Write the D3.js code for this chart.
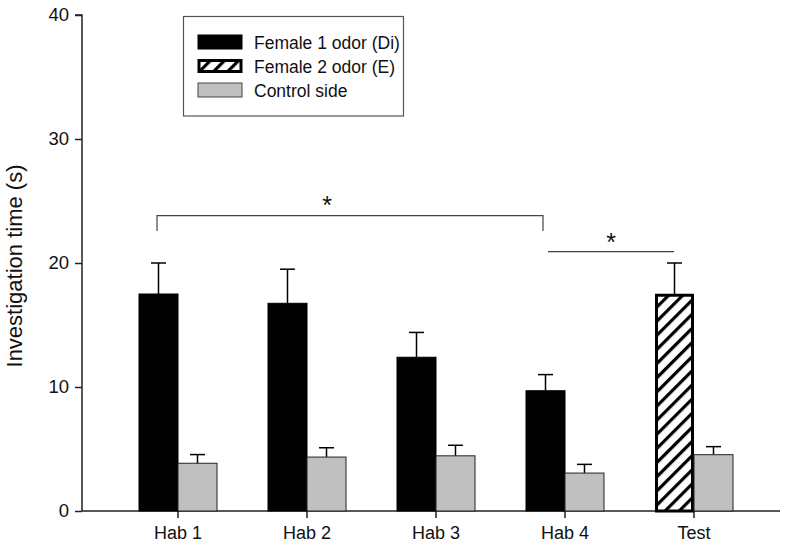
<!DOCTYPE html>
<html>
<head>
<meta charset="utf-8">
<script src="https://cdn.jsdelivr.net/npm/d3@7/dist/d3.min.js"></script>
<style>
  html, body { margin: 0; padding: 0; background: #fff; }
  svg { display: block; font-family: Arial, "Liberation Sans", sans-serif; }
</style>
</head>
<body>
<svg id="chart" width="800" height="555"></svg>
<script>
const categories = ["Hab 1", "Hab 2", "Hab 3", "Hab 4", "Test"];
const female1 = [17.5, 16.75, 12.4, 9.7, null];
const female1Err = [2.5, 2.75, 2.0, 1.3, null];
const female2 = [null, null, null, null, 17.4];
const female2Err = [null, null, null, null, 2.6];
const control = [3.85, 4.35, 4.45, 3.06, 4.54];
const controlErr = [0.7, 0.75, 0.85, 0.7, 0.65];
const yTicks = [0, 10, 20, 30, 40];
const legendLabels = ["Female 1 odor (Di)", "Female 2 odor (E)", "Control side"];
const yTitle = "Investigation time (s)";

const svg = d3.select("#chart");

// pattern for hatched bars
const defs = svg.append("defs");
const pat = defs.append("pattern")
  .attr("id", "hatch").attr("patternUnits", "userSpaceOnUse")
  .attr("width", 10).attr("height", 10)
  .attr("patternTransform", "rotate(45)");
pat.append("rect").attr("width", 10).attr("height", 10).attr("fill", "#fff");
pat.append("rect").attr("x", 0).attr("y", 0).attr("width", 3.2).attr("height", 10).attr("fill", "#000");

const axisLeft = 82, axisRight = 780;
const y = d3.scaleLinear().domain([0, 40]).range([511, 15]);
const x = d3.scaleBand().domain(categories).range([113.5, 758.5]).paddingInner(0).paddingOuter(0);
const cx = c => x(c) + x.bandwidth() / 2;
const bw = 39;
const capW = 15;

// Y axis
const gy = svg.append("g").attr("transform", `translate(${axisLeft},0)`)
  .call(d3.axisLeft(y).tickValues(yTicks).tickSize(7).tickPadding(6).tickFormat(d3.format("d")));
gy.select(".domain").attr("stroke", "#222").attr("stroke-width", 1.5).attr("d", `M-7,${y(40)}H0V${y(0)}`);
gy.selectAll(".tick line").attr("stroke", "#222").attr("stroke-width", 1.5);
gy.selectAll(".tick text").attr("font-size", 18.5).attr("fill", "#111")
  .attr("font-family", "Arial, 'Liberation Sans', sans-serif");

// X axis
const gx = svg.append("g").attr("transform", `translate(0,${y(0)})`)
  .call(d3.axisBottom(x).tickSize(7).tickPadding(8));
gx.select(".domain").attr("stroke", "#222").attr("stroke-width", 1.5).attr("d", `M${axisLeft},0H${axisRight}`);
gx.selectAll(".tick line").attr("stroke", "#222").attr("stroke-width", 1.5);
gx.selectAll(".tick text").attr("font-size", 18).attr("fill", "#111")
  .attr("font-family", "Arial, 'Liberation Sans', sans-serif");

// Y title
svg.append("text")
  .attr("transform", `translate(22,266) rotate(-90)`)
  .attr("text-anchor", "middle")
  .attr("font-size", 22).attr("fill", "#111")
  .text(yTitle);

const barsG = svg.append("g");

function errBar(xc, v, e) {
  const g = barsG.append("g").attr("stroke", "#000").attr("stroke-width", 1.5);
  g.append("line").attr("x1", xc).attr("x2", xc).attr("y1", y(v)).attr("y2", y(v + e));
  g.append("line").attr("x1", xc - capW / 2).attr("x2", xc + capW / 2).attr("y1", y(v + e)).attr("y2", y(v + e));
}

categories.forEach((c, i) => {
  const t = cx(c);
  if (female1[i] != null) {
    errBar(t - bw / 2, female1[i], female1Err[i]);
    barsG.append("rect").attr("x", t - bw).attr("y", y(female1[i]))
      .attr("width", bw).attr("height", y(0) - y(female1[i]))
      .attr("fill", "#000").attr("stroke", "#000").attr("stroke-width", 1);
  }
  if (female2[i] != null) {
    errBar(t - bw / 2, female2[i], female2Err[i]);
    barsG.append("rect").attr("x", t - bw + 1.5).attr("y", y(female2[i]))
      .attr("width", bw - 3).attr("height", y(0) - y(female2[i]))
      .attr("fill", "url(#hatch)").attr("stroke", "#000").attr("stroke-width", 3);
  }
  errBar(t + bw / 2, control[i], controlErr[i]);
  barsG.append("rect").attr("x", t).attr("y", y(control[i]))
    .attr("width", bw).attr("height", y(0) - y(control[i]))
    .attr("fill", "#c0c0c0").attr("stroke", "#222").attr("stroke-width", 1);
});

// Significance brackets
const sig = svg.append("g").attr("stroke", "#444").attr("stroke-width", 1.2).attr("fill", "none");
const bx1 = cx("Hab 1") - 21, bx2 = cx("Hab 4") - 22, by = 215.7;
sig.append("path").attr("d", `M${bx1},231V${by}H${bx2}V231`);
const lx1 = cx("Hab 4") - 17, lx2 = cx("Test") - 20, ly = 251.7;
sig.append("line").attr("x1", lx1).attr("x2", lx2).attr("y1", ly).attr("y2", ly);
svg.append("text").attr("x", cx("Hab 2") + 20).attr("y", 214).attr("text-anchor", "middle")
  .attr("font-size", 25).attr("fill", "#111").text("*");
svg.append("text").attr("x", (lx1 + lx2) / 2).attr("y", 251).attr("text-anchor", "middle")
  .attr("font-size", 25).attr("fill", "#111").text("*");

// Legend
const lg = svg.append("g");
lg.append("rect").attr("x", 183.5).attr("y", 16.5).attr("width", 220).attr("height", 99.5)
  .attr("fill", "#fff").attr("stroke", "#555").attr("stroke-width", 1.2);
const swY = [35, 59, 83];
const swFill = ["#000", "url(#hatch)", "#c0c0c0"];
legendLabels.forEach((lab, i) => {
  if (i === 1) {
    lg.append("rect").attr("x", 199).attr("y", swY[i] + 1.5).attr("width", 42).attr("height", 11)
      .attr("fill", swFill[i]).attr("stroke", "#000").attr("stroke-width", 3);
  } else {
    lg.append("rect").attr("x", 198).attr("y", swY[i]).attr("width", 44).attr("height", 14)
      .attr("fill", swFill[i]).attr("stroke", i === 0 ? "#000" : "#444").attr("stroke-width", 1);
  }
  lg.append("text").attr("x", 254).attr("y", swY[i] + 14)
    .attr("font-size", 17.5).attr("fill", "#111").text(lab);
});
</script>
</body>
</html>
